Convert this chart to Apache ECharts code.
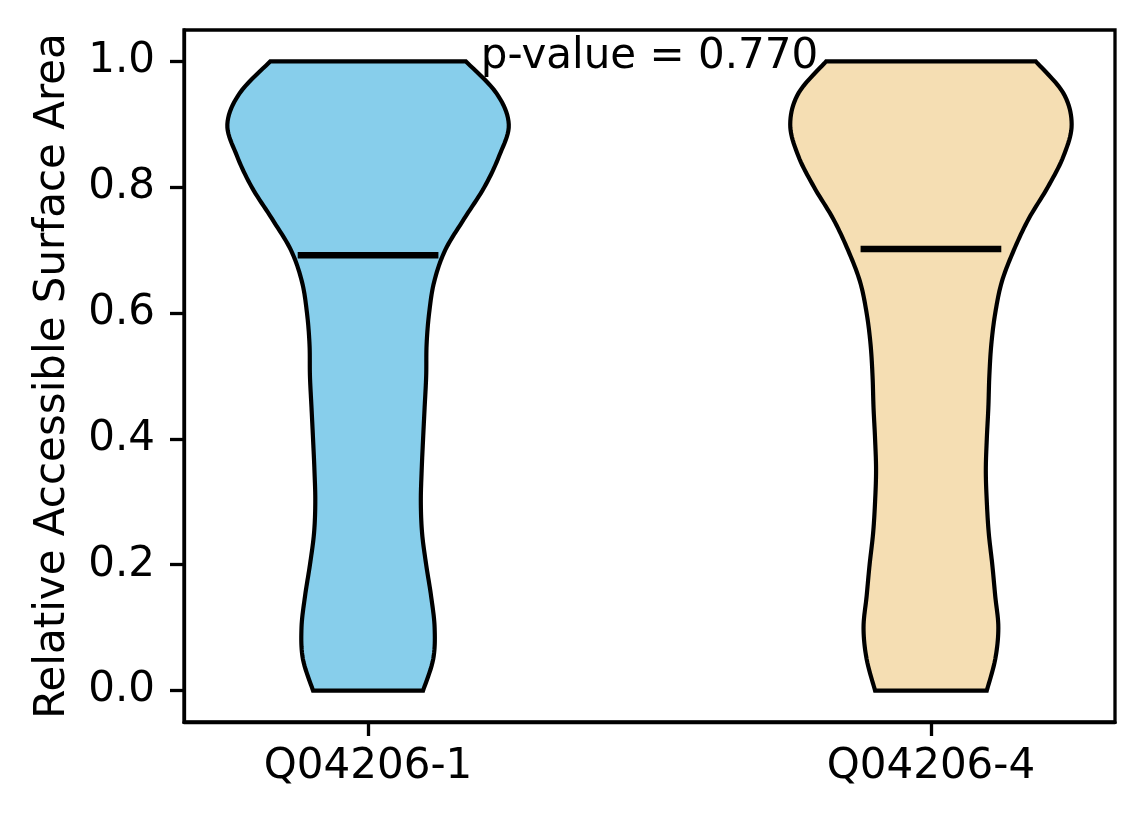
<!DOCTYPE html>
<html lang="en">
<head>
    <meta charset="UTF-8">
    <title>Violin</title>
    <style>
        body { margin: 0; padding: 0; background: #fff; }
        #main { width: 1144px; height: 824px; }
    </style>
    <script src="https://cdn.jsdelivr.net/npm/echarts@6/dist/echarts.min.js"></script>
</head>
<body>
<div id="main"></div>
<script>
    var categories = ['Q04206-1', 'Q04206-4'];
    var positions = [1, 2];
    var medians = [0.692, 0.702];
    var yTicks = [0, 0.2, 0.4, 0.6, 0.8, 1.0];
    var pValueText = 'p-value = 0.770';

    // density profile (scaled so the widest point = 1), sampled at these levels
    var levels = [0, 0.05, 0.1, 0.15, 0.2, 0.25, 0.3, 0.35, 0.4, 0.45, 0.5,
                  0.55, 0.6, 0.65, 0.7, 0.75, 0.8, 0.85, 0.9, 0.95, 1.0];
    var densityQ1 = [0.391, 0.463, 0.473, 0.448, 0.413, 0.384, 0.375, 0.381, 0.391, 0.402, 0.413,
                     0.416, 0.434, 0.470, 0.548, 0.683, 0.826, 0.932, 1.0, 0.911, 0.695];
    var densityQ4 = [0.397, 0.457, 0.479, 0.457, 0.436, 0.411, 0.397, 0.390, 0.397, 0.408, 0.415,
                     0.429, 0.457, 0.504, 0.589, 0.695, 0.830, 0.943, 1.0, 0.940, 0.745];
    var densities = [densityQ1, densityQ4];
    var colors = ['#87CEEB', '#F5DEB3'];
    var VIOLIN_WIDTH = 0.5;

    // catmull-rom through the outline points, just for drawing
    function spline(pts) {
        var out = [];
        for (var i = 0; i < pts.length - 1; i++) {
            var p0 = pts[Math.max(i - 1, 0)], p1 = pts[i], p2 = pts[i + 1], p3 = pts[Math.min(i + 2, pts.length - 1)];
            for (var s = 0; s < 10; s++) {
                var t = s / 10, t2 = t * t, t3 = t2 * t;
                out.push([0, 1].map(function (d) {
                    return 0.5 * ((2 * p1[d]) + (-p0[d] + p2[d]) * t +
                        (2 * p0[d] - 5 * p1[d] + 4 * p2[d] - p3[d]) * t2 +
                        (-p0[d] + 3 * p1[d] - 3 * p2[d] + p3[d]) * t3);
                }));
            }
        }
        out.push(pts[pts.length - 1]);
        return out;
    }

    var chart = echarts.init(document.getElementById('main'));
    var font = 'DejaVu Sans';

    var option = {
        animation: false,
        grid: {
            left: 184, right: 29, top: 30, bottom: 102,
            show: true, borderColor: '#000', borderWidth: 3.3, backgroundColor: 'transparent'
        },
        xAxis: {
            type: 'value',
            min: 0.673, max: 2.327,
            splitLine: { show: false },
            axisLine: { onZero: false, lineStyle: { color: '#000', width: 3.3 } },
            axisTick: { customValues: positions, length: 14, lineStyle: { color: '#000', width: 3.3 } },
            axisLabel: {
                customValues: positions,
                formatter: function (v) { return categories[positions.indexOf(v)]; },
                color: '#000', fontFamily: font, fontSize: 42, margin: 24
            }
        },
        yAxis: {
            type: 'value',
            min: -0.05, max: 1.05,
            name: 'Relative Accessible Surface Area',
            nameLocation: 'middle',
            nameGap: 110,
            nameTextStyle: { color: '#000', fontFamily: font, fontSize: 42 },
            splitLine: { show: false },
            axisLine: { show: true, onZero: false, lineStyle: { color: '#000', width: 3.3 } },
            axisTick: { customValues: yTicks, length: 14, lineStyle: { color: '#000', width: 3.3 } },
            axisLabel: {
                customValues: yTicks,
                formatter: function (v) { return v.toFixed(1); },
                color: '#000', fontFamily: font, fontSize: 42, margin: 29
            }
        },
        series: [
            {
                type: 'custom',
                data: positions.map(function (p, i) { return [p, i]; }),
                renderItem: function (params, api) {
                    var i = params.dataIndex;
                    var pos = api.value(0);
                    var dens = densities[i];
                    var half = VIOLIN_WIDTH / 2;
                    var right = levels.map(function (lv, k) { return api.coord([pos + dens[k] * half, lv]); });
                    var left = levels.map(function (lv, k) { return api.coord([pos - dens[k] * half, lv]); });
                    var pts = spline(right).concat(spline(left).reverse());
                    var m1 = api.coord([pos - VIOLIN_WIDTH / 4, medians[i]]);
                    var m2 = api.coord([pos + VIOLIN_WIDTH / 4, medians[i]]);
                    return {
                        type: 'group',
                        children: [
                            {
                                type: 'polygon',
                                shape: { points: pts },
                                style: { fill: colors[i], stroke: '#000', lineWidth: 4.2 }
                            },
                            {
                                type: 'line',
                                shape: { x1: m1[0], y1: m1[1], x2: m2[0], y2: m2[1] },
                                style: { stroke: '#000', lineWidth: 6.5 }
                            }
                        ]
                    };
                }
            },
            {
                type: 'custom',
                data: [[1.5, 1.007]],
                z: 10,
                renderItem: function (params, api) {
                    var p = api.coord([api.value(0), api.value(1)]);
                    return {
                        type: 'text',
                        x: p[0], y: p[1],
                        style: {
                            text: pValueText, fill: '#000', fontFamily: font, fontSize: 42,
                            align: 'center', verticalAlign: 'middle'
                        }
                    };
                }
            }
        ]
    };
    chart.setOption(option);
</script>
</body>
</html>
